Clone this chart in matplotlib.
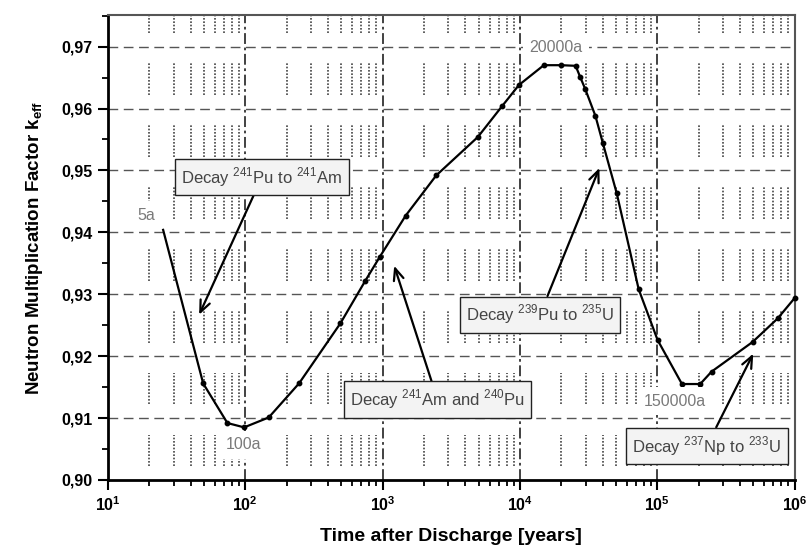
import numpy as np
import matplotlib as mpl
mpl.use('Agg')
import matplotlib.pyplot as plt

# time after discharge [years] and k_eff
years = [25.2, 49.3, 74, 98, 148, 246, 492, 748, 950, 1470, 2455, 4930, 7410,
         9820, 14900, 19950, 25400, 27400, 29900, 35400, 40000, 50600, 73100,
         100400, 151000, 205000, 248000, 494000, 752000, 1000000]
keff = [0.9404, 0.9156, 0.9092, 0.9085, 0.9101, 0.9156, 0.9253, 0.9322, 0.9360,
        0.9427, 0.9492, 0.9554, 0.9604, 0.9638, 0.9670, 0.9670, 0.9669, 0.9651,
        0.9631, 0.9588, 0.9545, 0.9463, 0.9308, 0.9226, 0.9155, 0.9155, 0.9175,
        0.9223, 0.9261, 0.9294]

# point labels (text, x, y)
point_labels = ['5a', '100a', '20000a', '150000a']
point_x = [19.1, 96.4, 18330, 133000]
point_y = [0.9428, 0.9057, 0.9698, 0.9127]

# decay annotations: text, box centre, arrow tip
decay_texts = [r'Decay $^{241}$Pu to $^{241}$Am',
               r'Decay $^{241}$Am and $^{240}$Pu',
               r'Decay $^{239}$Pu to $^{235}$U',
               r'Decay $^{237}$Np to $^{233}$U']
box_x = [132, 2506, 13960, 229200]
box_y = [0.9489, 0.9130, 0.9267, 0.9055]
tip_x = [46.1, 1213, 37840, 499000]
tip_y = [0.9267, 0.9346, 0.9504, 0.9204]

yticks = [0.90, 0.91, 0.92, 0.93, 0.94, 0.95, 0.96, 0.97]

plt.rcParams['font.family'] = ['Liberation Sans', 'DejaVu Sans']
plt.rcParams['mathtext.fontset'] = 'custom'
plt.rcParams['mathtext.rm'] = 'Liberation Sans'
plt.rcParams['mathtext.bf'] = 'Liberation Sans:bold'

fig = plt.figure(figsize=(8.06, 5.47), dpi=100)
ax = fig.add_axes([0.134, 0.1225, 0.852, 0.850])
ax.set_xscale('log')
ax.set_xlim(10, 1e6)
ax.set_ylim(0.90, 0.9751)

# grid: major dash lines, broken dotted minor verticals
for v in yticks[1:]:
    ax.axhline(v, color='#555555', lw=1.0, ls=(0, (7, 4)), zorder=1)
for d in [1e2, 1e3, 1e4, 1e5]:
    ax.axvline(d, color='#333333', lw=1.3, ls=(0, (6, 2, 1.5, 2)), zorder=1)
minor_x = [m * 10 ** e for e in range(1, 6) for m in range(2, 10)]
for v in yticks:
    ax.vlines(minor_x, v + 0.0022, min(v + 0.0073, 0.9749), colors='#444444',
              lw=1.2, ls=(0, (1, 1)), zorder=1)

ax.plot(years, keff, color='black', lw=1.6, marker='o', ms=3.2,
        markevery=list(range(1, len(years))), zorder=3, clip_on=False)

for txt, x, y in zip(point_labels, point_x, point_y):
    ax.text(x, y, txt, ha='center', va='center', fontsize=11.5, color='#7a7a7a',
            bbox=dict(boxstyle='square,pad=0.4', fc='white', ec='none'), zorder=4)

for txt, bx, by, tx, ty in zip(decay_texts, box_x, box_y, tip_x, tip_y):
    ax.annotate(txt, xy=(tx, ty), xytext=(bx, by), ha='center', va='center',
                fontsize=12, color='#444444',
                bbox=dict(boxstyle='square,pad=0.38', fc='#f3f3f3', ec='#222222', lw=1.0),
                arrowprops=dict(arrowstyle='->,head_length=0.7,head_width=0.3',
                                color='black', lw=1.6, shrinkA=0, shrinkB=0),
                zorder=5)

ax.set_yticks(yticks)
ax.set_yticklabels([('%.2f' % v).replace('.', ',') for v in yticks])
ax.yaxis.set_minor_locator(mpl.ticker.MultipleLocator(0.005))
ax.set_xticks([10 ** e for e in range(1, 7)])
ax.set_xticklabels([r'$\mathbf{10^{%d}}$' % e for e in range(1, 7)])
ax.tick_params(which='major', direction='out', length=7, width=1.5, labelsize=11.5, pad=4)
ax.tick_params(which='minor', direction='out', length=4, width=1.3)
for lab in ax.get_yticklabels():
    lab.set_fontweight('bold')

for s in ['left', 'bottom']:
    ax.spines[s].set_linewidth(2.0)
for s in ['top', 'right']:
    ax.spines[s].set_linewidth(1.5)
    ax.spines[s].set_color('#555555')

ax.set_xlabel('Time after Discharge [years]', fontsize=14, fontweight='bold', labelpad=10)
ax.set_ylabel(r'Neutron Multiplication Factor k$_{\mathbf{eff}}$', fontsize=13.5,
              fontweight='bold', labelpad=12)

fig.savefig('out.png', dpi=100)
